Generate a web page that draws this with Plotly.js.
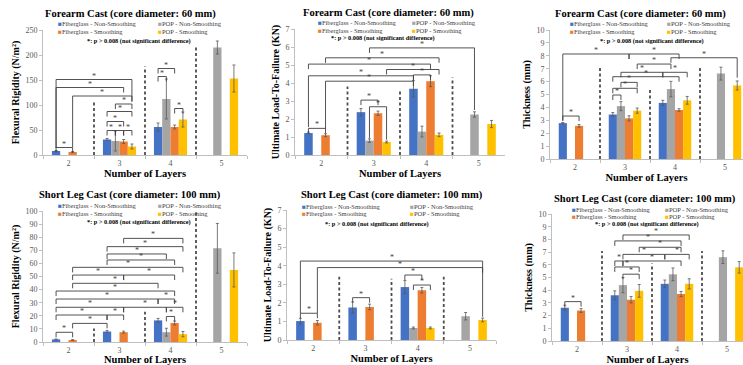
<!DOCTYPE html>
<html><head><meta charset="utf-8">
<script src="https://cdn.plot.ly/plotly-3.0.1.min.js"></script>
<style>html,body{margin:0;padding:0;background:#fff}#chart{width:743px;height:365px}</style>
</head><body><div id="chart"></div>
<script>
// ---------- DATA ----------
const categories = ['2', '3', '4', '5'];
const seriesNames = ['Fiberglass - Non-Smoothing', 'POP - Non-Smoothing', 'Fiberglass - Smoothing', 'POP - Smoothing'];

// rows: Fiberglass-NS, POP-NS, Fiberglass-S, POP-S ; columns: layers 2,3,4,5
const forearmRigidityValues = [[8, 31, 56, null], [null, 28, 112, 215], [6, 27, 56, null], [null, 17, 71, 153]];
const forearmRigidityErrors = [[1, 2, 8, 0], [0, 20, 40, 13], [1, 4, 4, 0], [0, 5, 15, 27]];
const forearmLoadValues = [[1.22, 2.38, 3.68, null], [null, 0.8, 1.3, 2.25], [1.1, 2.32, 4.1, null], [null, 0.72, 1.12, 1.72]];
const forearmLoadErrors = [[0.05, 0.2, 0.45, 0], [0, 0.1, 0.3, 0.15], [0.08, 0.12, 0.3, 0], [0, 0.05, 0.1, 0.2]];
const forearmThicknessValues = [[2.78, 3.45, 4.35, null], [null, 4.1, 5.42, 6.62], [2.57, 3.15, 3.8, null], [null, 3.75, 4.55, 5.7]];
const forearmThicknessErrors = [[0.05, 0.15, 0.2, 0], [0, 0.35, 0.6, 0.5], [0.1, 0.2, 0.1, 0], [0, 0.2, 0.3, 0.35]];
const legRigidityValues = [[2, 8, 16.5, null], [null, null, 7.5, 71.5], [1.5, 7.5, 14.5, null], [null, null, 6, 55]];
const legRigidityErrors = [[0.3, 0.8, 1.5, 0], [0, 0, 3, 19], [0.3, 0.8, 1.5, 0], [0, 0, 2, 13]];
const legLoadValues = [[1.02, 1.75, 2.85, null], [null, null, 0.65, 1.28], [0.93, 1.78, 2.68, null], [null, null, 0.65, 1.08]];
const legLoadErrors = [[0.15, 0.3, 0.35, 0], [0, 0, 0.05, 0.2], [0.12, 0.15, 0.15, 0], [0, 0, 0.05, 0.1]];
const legThicknessValues = [[2.62, 3.6, 4.5, null], [null, 4.4, 5.25, 6.6], [2.4, 3.25, 3.7, null], [null, 3.95, 4.5, 5.8]];
const legThicknessErrors = [[0.2, 0.35, 0.3, 0], [0, 0.6, 0.5, 0.5], [0.15, 0.25, 0.2, 0], [0, 0.5, 0.4, 0.45]];

// significance brackets: [layersA, seriesA, layersB, seriesB, height, legBottomA, legBottomB]
const forearmRigidityBrackets = [
  [2,0,2,2,15], [2,0,3,3,151,14,106], [2,0,3,2,135,14], [2,2,3,3,118,16],
  [3,1,3,3,102], [3,0,3,3,87], [3,0,3,2,67], [3,0,3,1,49], [3,1,3,2,49], [3,2,3,3,49],
  [4,0,4,2,173], [4,0,4,1,157], [4,2,4,3,93]
];
const forearmLoadBrackets = [
  [2,0,2,2,1.48], [3,1,5,1,5.95,null,2.5], [2,2,4,3,5.4], [2,0,4,2,5.05], [3,3,4,3,4.75],
  [2,0,4,0,4.4,1.55], [2,2,4,0,4.1,1.45], [4,0,4,2,4.45], [3,0,3,2,3.05], [3,1,3,3,2.68,0.95,0.85]
];
const forearmThicknessBrackets = [
  [2,0,2,2,3.33], [2,0,3,2,8.14,3.0], [3,2,4,2,8.14], [4,1,5,3,7.85,null,6.3], [3,3,4,1,7.36],
  [3,1,4,0,6.72], [4,0,4,3,6.72], [3,0,4,2,6.38], [3,1,3,3,5.94], [3,0,3,3,5.48], [3,0,3,1,4.96]
];
const legRigidityBrackets = [
  [2,0,2,2,7.4], [2,2,3,0,14.2], [2,0,3,0,20.6], [3,0,3,2,20.6], [4,1,4,2,19.5],
  [2,0,3,2,26.5], [3,2,4,1,26.5], [4,1,4,3,26.5], [2,0,4,0,32.8], [4,0,4,2,32.8],
  [2,0,4,2,38.9], [2,2,4,0,44.8], [2,2,3,2,51.1], [3,2,4,2,51.1], [2,2,4,3,57],
  [3,0,4,2,62.6], [3,0,4,1,67.2], [3,0,4,3,72.8], [3,2,4,3,79.1]
];
const legLoadBrackets = [
  [2,0,2,2,1.44], [2,0,5,3,4.25,1.45,1.25], [2,2,5,3,3.9,1.45], [3,0,3,2,2.28], [4,0,4,2,3.5], [4,1,4,3,2.96]
];
const legThicknessBrackets = [
  [2,0,2,2,3.1], [3,1,4,3,8.35], [3,0,4,2,7.88], [3,3,4,2,7.38], [3,1,4,0,6.82], [4,0,4,3,6.82],
  [3,0,3,1,6.3], [3,1,4,2,6.3], [3,0,3,3,5.83], [3,1,3,3,5.26]
];

// heights of the dashed separators between layer groups
const forearmRigiditySeparators = [110, 177, 220];
const forearmLoadSeparators = [3.8, 3.55, 4.3];
const forearmThicknessSeparators = [7.16, 5.35, 7.16];
const legRigiditySeparators = [10.4, 23, 100];
const legLoadSeparators = [3.4, 3.3, 3.4];
const legThicknessSeparators = [7.08, 6.1, 7.08];

// ---------- STYLE / LAYOUT ----------
const W = 743, H = 365;
const FONT = 'Liberation Serif, Times New Roman, serif';
const colors = ['#4472C4', '#A5A5A5', '#ED7D31', '#FFC000'];
const BARGAP = 0.35;
const groupW = 1 - BARGAP, barW = groupW / 4;
const off = [0, 1, 2, 3].map(i => -groupW / 2 + (i + 0.5) * barW);
const px2x = p => p / W, px2y = p => 1 - p / H;
const noteText = '*: p > 0.008 (not significant difference)';
const forearmTitle = 'Forearm Cast (core diameter: 60 mm)';
const legTitle = 'Short Leg Cast (core diameter: 100 mm)';

const panels = [
  {v: forearmRigidityValues, e: forearmRigidityErrors, b: forearmRigidityBrackets, s: forearmRigiditySeparators,
   yMax: 250, dtick: 50, yTitle: 'Flexural Rigidity (N/m²)', title: forearmTitle, box: [43, 247, 30, 155], xr: [-0.5, 3.5],
   lg: {c1: 56, c2: 156, r1: 24, r2: 32, nx: 139, ny: 41}, tp: [130, 14], so: 2},
  {v: forearmLoadValues, e: forearmLoadErrors, b: forearmLoadBrackets, s: forearmLoadSeparators,
   yMax: 7, dtick: 1, yTitle: 'Ultimate Load-To-Failure (KN)', title: forearmTitle, box: [295, 505, 29, 155], xr: [-0.5, 3.5],
   lg: {c1: 316, c2: 410, r1: 23, r2: 31, nx: 383, ny: 38.5}, tp: [388, 13], so: 2},
  {v: forearmThicknessValues, e: forearmThicknessErrors, b: forearmThicknessBrackets, s: forearmThicknessSeparators,
   yMax: 10, dtick: 1, yTitle: 'Thickness (mm)', title: forearmTitle, box: [550, 743, 30, 159], xr: [-0.5, 3.36],
   lg: {c1: 568, c2: 665, r1: 24, r2: 32, nx: 652, ny: 41}, tp: [640, 14], so: 1},
  {v: legRigidityValues, e: legRigidityErrors, b: legRigidityBrackets, s: legRigiditySeparators,
   yMax: 100, dtick: 10, yTitle: 'Flexural Rigidity (N/m²)', title: legTitle, box: [43, 247, 211, 342], xr: [-0.5, 3.5],
   lg: {c1: 56, c2: 156, r1: 205, r2: 213, nx: 139, ny: 222}, tp: [130, 195], so: 1},
  {v: legLoadValues, e: legLoadErrors, b: legLoadBrackets, s: legLoadSeparators,
   yMax: 7, dtick: 1, yTitle: 'Ultimate Load-To-Failure (KN)', title: legTitle, box: [287, 496, 210, 340], xr: [-0.5, 3.5],
   lg: {c1: 300, c2: 408, r1: 206, r2: 213, nx: 377, ny: 224}, tp: [392, 195], so: 1},
  {v: legThicknessValues, e: legThicknessErrors, b: legThicknessBrackets, s: legThicknessSeparators,
   yMax: 10, dtick: 1, yTitle: 'Thickness (mm)', title: legTitle, box: [552, 743, 214, 341], xr: [-0.5, 3.32],
   lg: {c1: 570, c2: 663, r1: 209, r2: 216, nx: 647, ny: 224}, tp: [645, 199], so: 0}
];

const data = [], shapes = [], annotations = [];
const layout = {
  width: W, height: H, margin: {l: 0, r: 0, t: 0, b: 0},
  paper_bgcolor: '#fff', plot_bgcolor: 'rgba(0,0,0,0)',
  barmode: 'group', bargap: BARGAP, bargroupgap: 0, showlegend: false,
  font: {family: FONT, color: '#000'}, hovermode: false
};
const lineCol = '#404040';

panels.forEach((p, k) => {
  const n = k + 1, xa = 'x' + (n === 1 ? '' : n), ya = 'y' + (n === 1 ? '' : n);
  p.v.forEach((vals, si) => {
    data.push({
      type: 'bar', x: categories, y: vals, xaxis: xa, yaxis: ya, name: seriesNames[si],
      marker: {color: colors[si]},
      error_y: {type: 'data', array: p.e[si], visible: true, color: '#595959', thickness: 0.8, width: 1.5}
    });
  });
  const plotH = p.box[3] - p.box[2];
  layout['xaxis' + (n === 1 ? '' : n)] = {
    domain: [px2x(p.box[0]), px2x(p.box[1])], anchor: ya, type: 'category', range: p.xr,
    showline: true, linecolor: '#BFBFBF', linewidth: 1, ticks: 'outside', tickson: 'boundaries', ticklen: 3, tickcolor: '#BFBFBF',
    tickfont: {size: 8, color: '#595959'}, showgrid: false, zeroline: false, fixedrange: true,
    title: {text: '<b>Number of Layers</b>', font: {size: 10.5, color: '#000'}, standoff: p.so}
  };
  layout['yaxis' + (n === 1 ? '' : n)] = {
    domain: [px2y(p.box[3]), px2y(p.box[2])], anchor: xa, range: [0, p.yMax], dtick: p.dtick,
    showline: true, linecolor: '#BFBFBF', linewidth: 1, ticks: 'outside', ticklen: 3, tickcolor: '#BFBFBF',
    tickfont: {size: 8, color: '#595959'}, showgrid: false, zeroline: false, fixedrange: true,
    title: {text: '<b>' + p.yTitle + '</b>', font: {size: 10, color: '#000'}, standoff: 3}
  };
  // dashed separators
  p.s.forEach((h, i) => {
    shapes.push({type: 'line', xref: xa, yref: ya, x0: i + 0.5, x1: i + 0.5, y0: 0, y1: h,
      line: {color: '#4d4d4d', width: 1.8, dash: '3px,2.5px'}});
  });
  // brackets
  const leg = 5 * p.yMax / plotH;
  p.b.forEach(br => {
    const [ca, sa, cb, sb, y, ba, bb] = br;
    const xA = categories.indexOf(String(ca)) + off[sa];
    const xB = categories.indexOf(String(cb)) + off[sb];
    const yA = (ba === undefined || ba === null) ? y - leg : ba;
    const yB = (bb === undefined || bb === null) ? y - leg : bb;
    const ln = {color: lineCol, width: 0.9};
    shapes.push({type: 'line', xref: xa, yref: ya, x0: xA, x1: xB, y0: y, y1: y, line: ln});
    shapes.push({type: 'line', xref: xa, yref: ya, x0: xA, x1: xA, y0: y, y1: yA, line: ln});
    shapes.push({type: 'line', xref: xa, yref: ya, x0: xB, x1: xB, y0: y, y1: yB, line: ln});
    annotations.push({xref: xa, yref: ya, x: (xA + xB) / 2, y: y, text: '*', showarrow: false,
      yanchor: 'bottom', yshift: -3, font: {size: 8, color: lineCol}});
  });
  // title
  annotations.push({xref: 'paper', yref: 'paper', x: px2x(p.tp[0]), y: px2y(p.tp[1]), text: '<b>' + p.title + '</b>',
    showarrow: false, xanchor: 'center', yanchor: 'middle', font: {size: 10.5, color: '#000'}});
  // legend (as text)
  const pos = [[p.lg.c1, p.lg.r1], [p.lg.c2, p.lg.r1], [p.lg.c1, p.lg.r2], [p.lg.c2, p.lg.r2]];
  pos.forEach((q, si) => {
    annotations.push({xref: 'paper', yref: 'paper', x: px2x(q[0]), y: px2y(q[1]),
      text: '<span style="color:' + colors[si] + '">■</span>' + seriesNames[si], showarrow: false,
      xanchor: 'left', yanchor: 'middle', font: {size: 6.5, color: '#404040'}});
  });
  annotations.push({xref: 'paper', yref: 'paper', x: px2x(p.lg.nx), y: px2y(p.lg.ny), text: '<b>' + noteText + '</b>',
    showarrow: false, xanchor: 'center', yanchor: 'middle', font: {size: 6.3, color: '#000'}});
});
layout.shapes = shapes;
layout.annotations = annotations;
Plotly.newPlot('chart', data, layout, {staticPlot: true, displayModeBar: false});
</script></body></html>
